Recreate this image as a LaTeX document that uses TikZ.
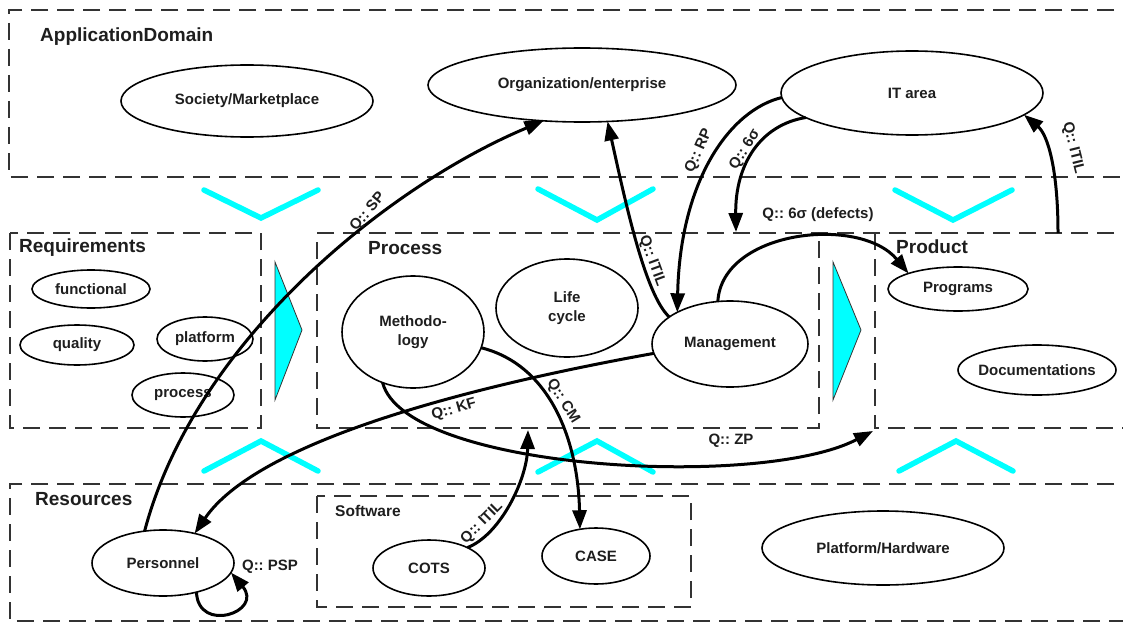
\documentclass[tikz,border=0pt]{standalone}
\usepackage{fontspec}
\setmainfont{Liberation Sans}
\usetikzlibrary{shapes.geometric,arrows.meta}
\definecolor{ink}{HTML}{1E1E1E}
\definecolor{zoneline}{HTML}{333333}
\definecolor{aqua}{HTML}{00FFFF}
\newcommand\lblfont{\fontsize{15}{19}\selectfont\bfseries}
\newcommand\ttlfont{\fontsize{19}{22}\selectfont\bfseries}
\newcommand\swfont{\fontsize{15.5}{19}\selectfont\bfseries}
\frenchspacing

\begin{document}
\begin{tikzpicture}[x=1pt,y=1pt,
  ell/.style={draw=black, line width=1.6pt, ellipse, inner sep=0pt, outer sep=0pt,
              font=\lblfont, text=ink, align=center},
  conn/.style={draw=black, line width=3pt, -{Triangle[length=19pt,width=14pt]}},
  zone/.style={draw=zoneline, line width=2.4pt, dash pattern=on 17pt off 9pt},
  chev/.style={draw=aqua, line width=5.5pt, line cap=round, line join=miter},
  wedge/.style={fill=aqua, draw=black!80, line width=0.8pt},
  qlabel/.style={font=\lblfont, text=ink, inner sep=0pt},
  zonetitle/.style={font=\ttlfont, text=ink, anchor=west, inner sep=0pt}]

\useasboundingbox (0,0) rectangle (1123,-623);
\fill[white] (0,0) rectangle (1123,-623);

% ---- zones ----
\draw[zone] (1140,-10) -- (9,-10) -- (9,-177) -- (1140,-177);
\draw[zone] (10,-233) rectangle (261,-428);
\draw[zone] (1140,-233) -- (317,-233) -- (317,-428) -- (819,-428) -- (819,-233);
\draw[zone] (875,-233) -- (875,-428) -- (1140,-428);
\draw[zone] (1140,-484) -- (10,-484) -- (10,-621) -- (1140,-621);
\draw[zone] (317,-496) rectangle (691,-607);

% ---- flow chevrons ----
\draw[chev] (204,-190) -- (261,-218) -- (318,-190);
\draw[chev] (538,-189) -- (597,-220) -- (653,-189);
\draw[chev] (895,-190) -- (953,-220) -- (1012,-190);
\draw[chev] (204,-471) -- (261,-441) -- (318,-471);
\draw[chev] (538,-472) -- (597,-441) -- (653,-472);
\draw[chev] (899,-471) -- (956,-441) -- (1013,-471);
\draw[wedge] (275,-262) -- (302,-330) -- (275,-400) -- cycle;
\draw[wedge] (833,-262) -- (861,-330) -- (833,-400) -- cycle;

% ---- zone titles ----
\node[zonetitle] (tApp) at (40,-37) {ApplicationDomain};
\node[zonetitle] (tReq) at (19,-248) {Requirements};
\node[zonetitle] (tProc) at (368,-248) {Process};
\node[zonetitle] (tProd) at (896,-247) {Product};
\node[zonetitle] (tRes) at (35,-499) {Resources};
\node[zonetitle, font=\swfont] (tSw) at (335,-511) {Software};

% ---- entities ----
\node[ell, minimum width=252pt, minimum height=72pt] (soc) at (247,-101) {Society/Marketplace};
\node[ell, minimum width=308pt, minimum height=74pt] (org) at (582,-85) {Organization/enterprise};
\node[ell, minimum width=262pt, minimum height=84pt] (it) at (912,-93) {IT area};
\node[ell, minimum width=118pt, minimum height=38pt] (func) at (91,-289) {functional};
\node[ell, minimum width=114pt, minimum height=40pt] (qual) at (77,-345) {quality};
\node[ell, minimum width=96pt, minimum height=44pt] (plat) at (205,-339) {platform};
\node[ell, minimum width=102pt, minimum height=44pt] (proc) at (183,-395) {process};
\node[ell, minimum width=142pt, minimum height=112pt] (meth) at (413,-332) {Methodo-\\logy};
\node[ell, minimum width=142pt, minimum height=98pt] (life) at (567,-308) {Life\\cycle};
\node[ell, minimum width=156pt, minimum height=86pt] (mgmt) at (730,-344) {Management};
\node[ell, minimum width=140pt, minimum height=44pt] (prog) at (958,-289) {Programs};
\node[ell, minimum width=158pt, minimum height=50pt] (docs) at (1037,-370) {\makebox[0pt][c]{Documentations}};
\node[ell, minimum width=142pt, minimum height=66pt] (pers) at (163,-563) {Personnel};
\node[ell, minimum width=112pt, minimum height=56pt] (cots) at (429,-568) {COTS};
\node[ell, minimum width=108pt, minimum height=56pt] (case) at (596,-556) {CASE};
\node[ell, minimum width=242pt, minimum height=74pt] (hw) at (883,-548) {Platform/Hardware};

% ---- free ends on zone borders ----
\coordinate (sixtip) at (736,-232);
\coordinate (prodtop) at (1058,-233);
\coordinate (zptip) at (873,-431);
\coordinate (cotstip) at (528,-430);

% ---- quality relations ----
\draw[conn] (pers.120) .. controls (195,-340) and (390,-185) .. (org.223);
\draw[conn] (mgmt.156) .. controls (645,-295) and (625,-200) .. (org.305);
\draw[conn] (it.182) .. controls (730,-110) and (680,-180) .. (mgmt.149);
\draw[conn] (it.193) .. controls (760,-125) and (735,-165) .. (sixtip);
\draw[conn] (mgmt.106) .. controls (722,-230) and (860,-215) .. (prog.north west);
\draw[conn] (prodtop) .. controls (1058,-170) and (1048,-135) .. (it.349);
\draw[conn] (mgmt.187) .. controls (450,-390) and (255,-445) .. (pers.43);
\draw[conn] (meth.239) .. controls (405,-470) and (760,-490) .. (zptip);
\draw[conn] (meth.347) .. controls (550,-365) and (578,-440) .. (case.121);
\draw[conn] (cots.28) .. controls (500,-535) and (527,-480) .. (cotstip);
\draw[conn] (pers.319) .. controls (198,-634) and (264,-612) .. (pers.352);

% ---- relation labels ----
\node[qlabel, rotate=50] (lSP) at (368,-212) {Q:: SP};
\node[qlabel, rotate=-70] (lOrg) at (652,-261) {Q:: ITIL};
\node[qlabel, rotate=66] (lRP) at (699,-151) {Q:: RP};
\node[qlabel, rotate=58] (lSix) at (745,-150) {Q:: 6σ};
\node[qlabel] (lDef) at (818,-215) {Q:: 6σ (defects)};
\node[qlabel, rotate=-76] (lProd) at (1073,-148) {Q:: ITIL};
\node[qlabel, rotate=16] (lKF) at (454,-410) {Q:: KF};
\node[qlabel] (lZP) at (731,-441) {Q:: ZP};
\node[qlabel, rotate=-58] (lCM) at (563,-401) {Q:: CM};
\node[qlabel, rotate=45] (lCots) at (482,-523) {Q:: ITIL};
\node[qlabel] (lPSP) at (270,-567) {Q:: PSP};
\end{tikzpicture}
\end{document}
